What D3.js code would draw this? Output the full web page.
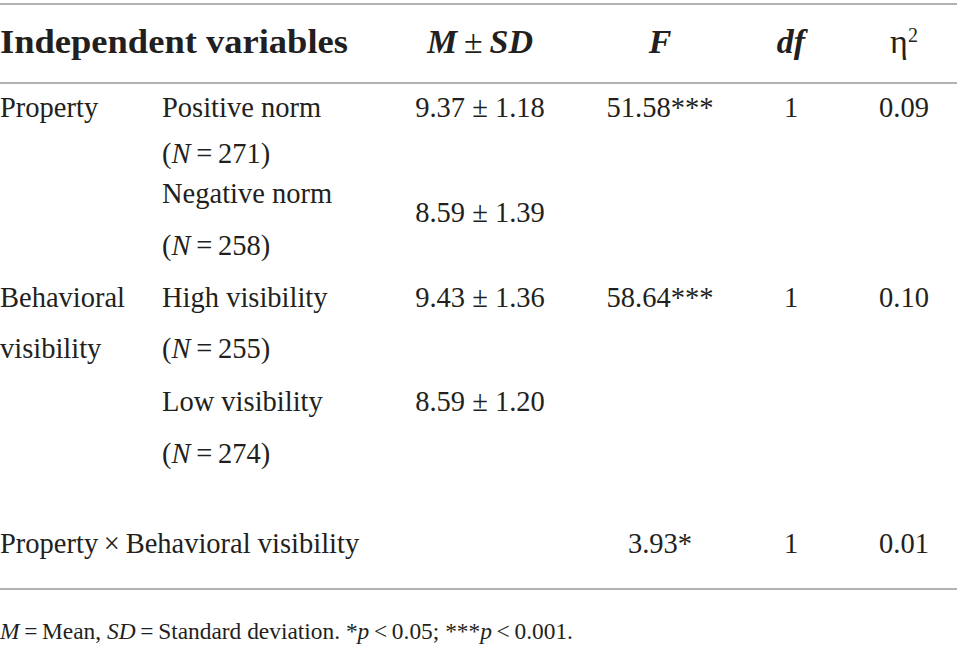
<!DOCTYPE html>
<html>
<head>
<meta charset="utf-8">
<script src="https://cdn.jsdelivr.net/npm/d3@7/dist/d3.min.js"></script>
<style>
  body { margin: 0; background: #fff; }
  svg text { font-family: "Liberation Serif", "Times New Roman", serif; fill: #231f20; }
</style>
</head>
<body>
<svg id="tbl" width="957" height="670"></svg>
<script>
// table values
const effects = ["Property", "Behavioral visibility", "Property\u2009\u00d7\u2009Behavioral visibility"];
const levels = ["Positive norm", "Negative norm", "High visibility", "Low visibility"];
const levelN = [271, 258, 255, 274];
const means = [9.37, 8.59, 9.43, 8.59];
const sds = [1.18, 1.39, 1.36, 1.20];
const fValues = [51.58, 58.64, 3.93];
const fStars = ["***", "***", "*"];
const dfValues = [1, 1, 1];
const etaSq = [0.09, 0.10, 0.01];

const W = 957, H = 670;
const svg = d3.select("#tbl");
const fs = 28.5, hfs = 34;

// column x positions
const col = d3.scaleOrdinal()
  .domain(["effect", "level", "mean", "F", "df", "eta"])
  .range([0, 162, 480, 660, 791, 904]);

// baselines (layout only)
const yHead = 53;
const effectY = [117, 307, 553];
const levelY = [117, 203, 307, 411];
const nY = [163, 255, 358, 463];
const meanY = [117, 222, 307, 411];
const rules = [4, 83, 589];

svg.selectAll("line.rule").data(rules).join("line")
  .attr("class", "rule")
  .attr("x1", 0).attr("x2", W)
  .attr("y1", d => d).attr("y2", d => d)
  .attr("stroke", "#9a9a9a").attr("stroke-width", 1.6);

// header
const head = svg.append("g").style("font-size", hfs + "px").style("font-weight", "bold");
head.append("text").attr("x", col("effect")).attr("y", yHead)
  .attr("textLength", 348).attr("lengthAdjust", "spacingAndGlyphs")
  .text("Independent variables");
const hm = head.append("text").attr("x", col("mean")).attr("y", yHead).attr("text-anchor", "middle");
hm.append("tspan").style("font-style", "italic").text("M");
hm.append("tspan").style("font-weight", "normal").text("\u2009\u00b1\u2009");
hm.append("tspan").style("font-style", "italic").text("SD");
head.append("text").attr("x", col("F")).attr("y", yHead).attr("text-anchor", "middle")
  .style("font-style", "italic").text("F");
head.append("text").attr("x", col("df")).attr("y", yHead).attr("text-anchor", "middle")
  .style("font-style", "italic").text("df");
const he = head.append("text").attr("x", col("eta")).attr("y", yHead).attr("text-anchor", "middle")
  .style("font-weight", "normal");
he.append("tspan").text("\u03b7");
he.append("tspan").attr("dy", -11).style("font-size", "20px").text("2");

const body = svg.append("g").style("font-size", fs + "px");

// effect labels (second one wraps)
effects.forEach((e, i) => {
  const t = body.append("text").attr("x", col("effect")).attr("y", effectY[i]);
  if (i === 1) {
    const parts = e.split(" ");
    t.append("tspan").attr("x", col("effect")).text(parts[0]);
    t.append("tspan").attr("x", col("effect")).attr("y", nY[2]).text(parts[1]);
  } else {
    t.text(e);
  }
});

// levels with N
levels.forEach((l, i) => {
  body.append("text").attr("x", col("level")).attr("y", levelY[i]).text(l);
  const n = body.append("text").attr("x", col("level")).attr("y", nY[i]);
  n.append("tspan").text("(");
  n.append("tspan").style("font-style", "italic").text("N");
  n.append("tspan").text("\u2009=\u2009" + levelN[i] + ")");
  body.append("text").attr("x", col("mean")).attr("y", meanY[i]).attr("text-anchor", "middle")
    .text(d3.format(".2f")(means[i]) + " \u00b1 " + d3.format(".2f")(sds[i]));
});

// F, df, eta^2 per effect
fValues.forEach((f, i) => {
  body.append("text").attr("x", col("F")).attr("y", effectY[i]).attr("text-anchor", "middle")
    .text(d3.format(".2f")(f) + fStars[i]);
  body.append("text").attr("x", col("df")).attr("y", effectY[i]).attr("text-anchor", "middle")
    .text(dfValues[i]);
  body.append("text").attr("x", col("eta")).attr("y", effectY[i]).attr("text-anchor", "middle")
    .text(d3.format(".2f")(etaSq[i]));
});

// footnote
const note = svg.append("text").attr("x", 0).attr("y", 639).style("font-size", "23.4px");
[["M", true], ["\u2009=\u2009Mean, ", false], ["SD", true], ["\u2009=\u2009Standard deviation. *", false],
 ["p", true], ["\u2009<\u20090.05; ***", false], ["p", true], ["\u2009<\u20090.001.", false]]
  .forEach(([s, it]) => note.append("tspan").style("font-style", it ? "italic" : "normal").text(s));
</script>
</body>
</html>
